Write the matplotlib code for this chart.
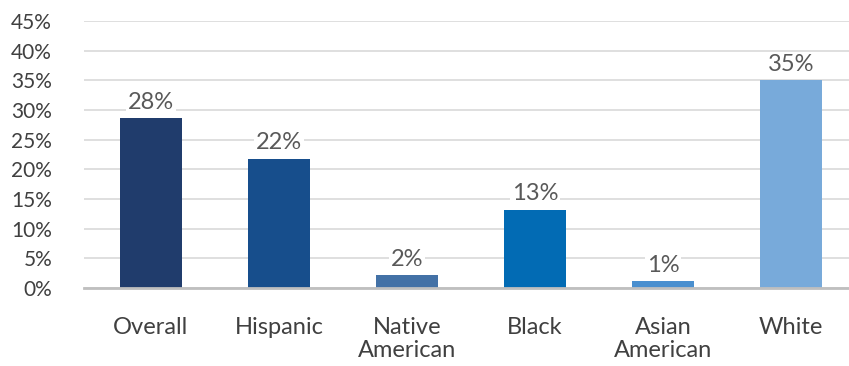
import matplotlib
matplotlib.use("Agg")
import matplotlib.pyplot as plt

categories = ["Overall", "Hispanic", "Native\nAmerican", "Black", "Asian\nAmerican", "White"]
values = [28.6, 21.8, 2.2, 13.2, 1.2, 35.0]
value_labels = ["28%", "22%", "2%", "13%", "1%", "35%"]
colors = ["#203C6C", "#174E8C", "#4371A6", "#026BB4", "#4A8FCF", "#78AADA"]
yticks = [0, 5, 10, 15, 20, 25, 30, 35, 40, 45]
ytick_labels = [f"{t}%" for t in yticks]

plt.rcParams['font.family'] = ['Lato', 'DejaVu Sans']
fig = plt.figure(figsize=(8.49, 3.66), dpi=100)
ax = fig.add_axes([84/849, 1-288/366, (849-84)/849, 267/366])

x = list(range(len(categories)))
ax.bar(x, values, width=0.485, color=colors, zorder=3)
for xi, v, lab in zip(x, values, value_labels):
    ax.text(xi, v + 0.9, lab, ha="center", va="bottom", fontsize=17, color="#595959",
            bbox=dict(facecolor="white", edgecolor="none", pad=1.5), zorder=4)

ax.set_ylim(0, 45)
ax.set_xlim(-0.523, 5.453)
ax.set_yticks(yticks)
ax.set_yticklabels(ytick_labels, fontsize=15, color="#404040")
ax.set_xticks(x)
ax.set_xticklabels(categories, fontsize=17, color="#404040", linespacing=1.1)
ax.tick_params(axis="both", length=0)
ax.tick_params(axis="x", pad=21)
ax.tick_params(axis="y", pad=23)
for lab in ax.get_yticklabels():
    lab.set_horizontalalignment("right")
ax.yaxis.grid(True, color="#D9D9D9", linewidth=1.2, zorder=0)
for s in ["top", "right", "left"]:
    ax.spines[s].set_visible(False)
ax.spines["bottom"].set_color("#BFBFBF")
ax.spines["bottom"].set_linewidth(2)
ax.spines["bottom"].set_zorder(4)

fig.savefig("out.png", dpi=100)
